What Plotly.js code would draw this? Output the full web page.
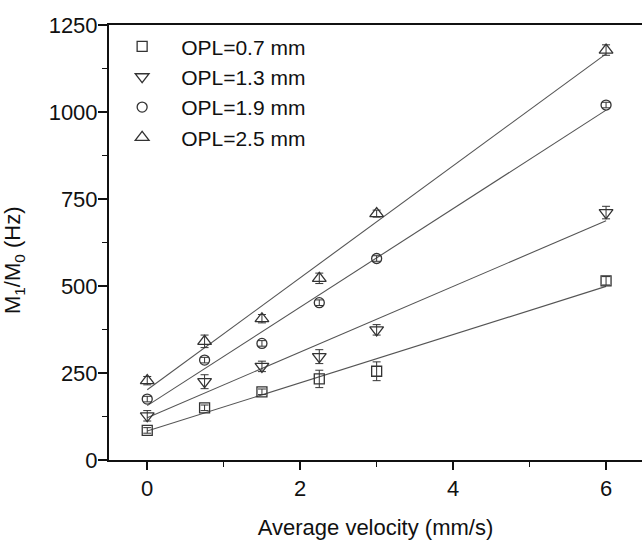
<!DOCTYPE html>
<html>
<head>
<meta charset="utf-8">
<script src="https://cdn.plot.ly/plotly-3.0.1.min.js"></script>
<style>html,body{margin:0;padding:0;background:#fff;}#chart{width:642px;height:540px;}</style>
</head>
<body>
<div id="chart"></div>
<script>
// Data
var velocity = [0, 0.75, 1.5, 2.25, 3, 6];
var seriesNames = ['OPL=0.7 mm', 'OPL=1.3 mm', 'OPL=1.9 mm', 'OPL=2.5 mm'];
var opl07 = [85, 150, 196, 233, 255, 515];
var opl07err = [8, 8, 8, 25, 27, 12];
var opl13 = [127, 225, 269, 297, 374, 711];
var opl13err = [15, 20, 15, 20, 15, 18];
var opl19 = [175, 287, 335, 452, 579, 1020];
var opl19err = [8, 8, 8, 8, 8, 8];
var opl25 = [228, 341, 406, 522, 708, 1178];
var opl25err = [12, 18, 12, 15, 10, 15];

var xTickVals = [0, 2, 4, 6];
var yTickVals = [0, 250, 500, 750, 1000, 1250];

var values = [opl07, opl13, opl19, opl25];
var errors = [opl07err, opl13err, opl19err, opl25err];
var symbols = ['square-open', 'triangle-down-open', 'circle-open', 'triangle-up-open'];
var sizes = [10, 12, 10, 12];

// linear least-squares fit for each series
function fit(x, y) {
  var n = x.length, mx = 0, my = 0;
  for (var i = 0; i < n; i++) { mx += x[i]; my += y[i]; }
  mx /= n; my /= n;
  var sxy = 0, sxx = 0;
  for (var j = 0; j < n; j++) { sxy += (x[j]-mx)*(y[j]-my); sxx += (x[j]-mx)*(x[j]-mx); }
  var b = sxy / sxx, a = my - b * mx;
  return function (v) { return a + b * v; };
}

var traces = [];
var fitX = [velocity[0], velocity[velocity.length - 1]];
for (var k = 0; k < values.length; k++) {
  var f = fit(velocity, values[k]);
  traces.push({
    x: fitX, y: fitX.map(f), mode: 'lines', type: 'scatter',
    line: {color: '#555', width: 1.1}, showlegend: false, hoverinfo: 'skip'
  });
}
for (var s = 0; s < values.length; s++) {
  traces.push({
    x: velocity, y: values[s], name: seriesNames[s], mode: 'markers', type: 'scatter',
    marker: {symbol: symbols[s], size: sizes[s], color: '#333', line: {color: '#333', width: 1.3}},
    error_y: {type: 'data', array: errors[s], visible: true, color: '#333', thickness: 1, width: 4}
  });
}

var fontFam = 'Arial, "Liberation Sans", Helvetica, sans-serif';
var layout = {
  width: 642, height: 540,
  margin: {l: 109, r: 0, t: 25, b: 80},
  paper_bgcolor: '#fff', plot_bgcolor: '#fff',
  font: {family: fontFam, size: 22, color: '#111'},
  showlegend: true,
  legend: {
    x: -0.011, y: 0.997, xanchor: 'left', yanchor: 'top',
    bgcolor: 'rgba(0,0,0,0)', itemwidth: 68,
    font: {family: fontFam, size: 21, color: '#111'}
  },
  xaxis: {
    range: [-0.5, 6.47], tickvals: xTickVals, ticktext: xTickVals.map(String),
    showgrid: false, zeroline: false, showline: true, linecolor: '#111', linewidth: 2,
    mirror: true, ticks: 'outside', ticklen: 8, tickwidth: 1.5, tickcolor: '#111',
    minor: {tickvals: [1, 3, 5], ticks: 'outside', ticklen: 5, tickwidth: 1.5, tickcolor: '#111'},
    tickfont: {size: 22},
    title: {text: 'Average velocity (mm/s)', font: {size: 22}, standoff: 20},
    automargin: false
  },
  yaxis: {
    range: [0, 1250], tickvals: yTickVals, ticktext: yTickVals.map(String),
    showgrid: false, zeroline: false, showline: true, linecolor: '#111', linewidth: 2,
    ticks: 'outside', ticklen: 9, tickwidth: 1.5, tickcolor: '#111',
    minor: {tickvals: [125, 375, 625, 875, 1125], ticks: 'outside', ticklen: 5, tickwidth: 1.5, tickcolor: '#111'},
    tickfont: {size: 22}, ticklabelstandoff: -4,
    automargin: false
  },
  annotations: [{
    text: 'M<sub>1</sub>/M<sub>0</sub> (Hz)', textangle: -90,
    xref: 'paper', yref: 'paper', x: -0.178, y: 0.46, xanchor: 'center', yanchor: 'middle',
    showarrow: false, font: {family: fontFam, size: 22, color: '#111'}
  }]
};

Plotly.newPlot('chart', traces, layout, {displayModeBar: false, staticPlot: true});
</script>
</body>
</html>
